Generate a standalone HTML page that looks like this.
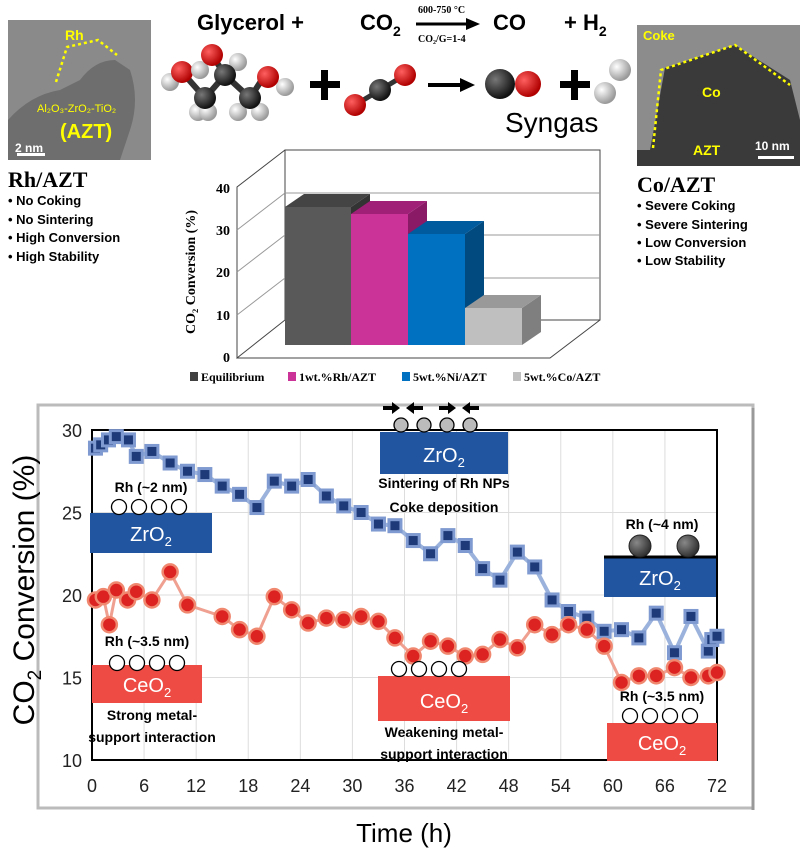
<!DOCTYPE html>
<html><head><meta charset="utf-8"><style>
body{margin:0;background:#fff}
svg{display:block;font-family:"Liberation Sans",sans-serif}
.s{font-family:"Liberation Serif",serif;font-weight:bold}
</style></head><body>
<svg id="g" width="804" height="859" viewBox="0 0 804 859" xmlns="http://www.w3.org/2000/svg">
<defs>
<radialGradient id="rd" cx="35%" cy="35%" r="65%"><stop offset="0" stop-color="#ff6060"/><stop offset="1" stop-color="#b00000"/></radialGradient>
<radialGradient id="bk" cx="35%" cy="35%" r="65%"><stop offset="0" stop-color="#777"/><stop offset="1" stop-color="#111"/></radialGradient>
<radialGradient id="wh" cx="35%" cy="35%" r="65%"><stop offset="0" stop-color="#fff"/><stop offset="1" stop-color="#999"/></radialGradient>
<radialGradient id="gr" cx="35%" cy="35%" r="65%"><stop offset="0" stop-color="#888"/><stop offset="1" stop-color="#333"/></radialGradient>
</defs>
<rect x="8" y="20" width="143" height="140" fill="#8a8a8a"/>
<path d="M8 160 L8 120 Q30 95 60 90 L80 80 Q95 60 115 60 L130 70 Q140 100 130 130 L120 160Z" fill="#6e6e6e"/>
<polyline points="56,82 67,47 98,40 117,55" fill="none" stroke="#ff0" stroke-width="2.5" stroke-dasharray="3,3"/>
<text x="65" y="40" fill="#ff0" font-size="14" font-weight="bold">Rh</text>
<text x="37" y="112" fill="#ff0" font-size="11">Al₂O₃-ZrO₂-TiO₂</text>
<text x="60" y="138" fill="#ff0" font-size="20" font-weight="bold">(AZT)</text>
<text x="15" y="152" fill="#fff" font-size="12" font-weight="bold">2 nm</text>
<rect x="17" y="153" width="28" height="3" fill="#fff"/>
<rect x="637" y="25" width="163" height="141" fill="#3a3a3a"/>
<path d="M637 25 H800 V120 L790 80 L735 45 L665 68 L650 150 H637Z" fill="#8c8c8c"/>
<polyline points="653,148 661,70 735,45 790,85" fill="none" stroke="#ff0" stroke-width="2.5" stroke-dasharray="3,3"/>
<text x="643" y="40" fill="#ff0" font-size="13" font-weight="bold">Coke</text>
<text x="702" y="97" fill="#ff0" font-size="14" font-weight="bold">Co</text>
<text x="693" y="155" fill="#ff0" font-size="14" font-weight="bold">AZT</text>
<text x="755" y="150" fill="#fff" font-size="12" font-weight="bold">10 nm</text>
<rect x="758" y="156" width="36" height="3" fill="#fff"/>
<text x="197" y="30" font-size="22" font-weight="bold">Glycerol  +</text>
<text x="360" y="30" font-size="22" font-weight="bold">CO<tspan font-size="14" dy="6">2</tspan></text>
<line x1="416" y1="24" x2="472" y2="24" stroke="#000" stroke-width="3"/><path d="M466 18 L480 24 L466 30Z"/>
<text x="418" y="13" class="s" font-size="10">600-750 °C</text>
<text x="418" y="42" class="s" font-size="10">CO₂/G=1-4</text>
<text x="493" y="30" font-size="22" font-weight="bold">CO</text>
<text x="564" y="30" font-size="22" font-weight="bold">+ H<tspan font-size="14" dy="6">2</tspan></text>
<g stroke="#333" stroke-width="6"><line x1="182" y1="72" x2="205" y2="98"/><line x1="205" y1="98" x2="225" y2="75"/><line x1="225" y1="75" x2="250" y2="98"/><line x1="250" y1="98" x2="265" y2="75"/><line x1="225" y1="75" x2="212" y2="55"/></g>
<circle cx="170" cy="82" r="9" fill="url(#wh)"/><circle cx="182" cy="72" r="11" fill="url(#rd)"/>
<circle cx="198" cy="112" r="9" fill="url(#wh)"/><circle cx="208" cy="112" r="9" fill="url(#wh)"/><circle cx="205" cy="98" r="11" fill="url(#bk)"/>
<circle cx="200" cy="70" r="9" fill="url(#wh)"/><circle cx="238" cy="62" r="9" fill="url(#wh)"/>
<circle cx="212" cy="55" r="11" fill="url(#rd)"/><circle cx="225" cy="75" r="11" fill="url(#bk)"/>
<circle cx="238" cy="112" r="9" fill="url(#wh)"/><circle cx="260" cy="112" r="9" fill="url(#wh)"/><circle cx="250" cy="98" r="11" fill="url(#bk)"/>
<circle cx="285" cy="87" r="9" fill="url(#wh)"/><circle cx="268" cy="77" r="11" fill="url(#rd)"/>
<rect x="310" y="81" width="30" height="7" fill="#000"/><rect x="321" y="70" width="7" height="30" fill="#000"/>
<g stroke="#333" stroke-width="5"><line x1="355" y1="105" x2="405" y2="75"/></g>
<circle cx="355" cy="105" r="11" fill="url(#rd)"/><circle cx="380" cy="90" r="11" fill="url(#bk)"/><circle cx="405" cy="75" r="11" fill="url(#rd)"/>
<line x1="428" y1="85" x2="465" y2="85" stroke="#000" stroke-width="4"/><path d="M460 78 L475 85 L460 92Z"/>
<circle cx="528" cy="84" r="13" fill="url(#rd)"/><circle cx="500" cy="84" r="15" fill="url(#bk)"/>
<rect x="560" y="81" width="30" height="7" fill="#000"/><rect x="571" y="70" width="7" height="30" fill="#000"/>
<circle cx="620" cy="70" r="11" fill="url(#wh)"/><circle cx="605" cy="93" r="11" fill="url(#wh)"/>
<text x="505" y="132" font-size="28">Syngas</text>
<text x="8" y="187" class="s" font-size="22">Rh/AZT</text>
<g font-size="13" font-weight="bold"><text x="8" y="205">•  No Coking</text><text x="8" y="224">•  No Sintering</text><text x="8" y="242">•  High Conversion</text><text x="8" y="261">•  High Stability</text></g>
<text x="637" y="192" class="s" font-size="22">Co/AZT</text>
<g font-size="13" font-weight="bold"><text x="637" y="210">•  Severe Coking</text><text x="637" y="229">•  Severe Sintering</text><text x="637" y="247">•  Low Conversion</text><text x="637" y="265">•  Low Stability</text></g>
<g stroke="#444" stroke-width="1" fill="none">
<path d="M285 150 H600 V320 H285Z M285 150 L237 187 V358 L285 320 M237 358 H550 L600 320"/>
<path d="M285 193 H600 M285 235 H600 M285 278 H600" stroke="#999"/>
<path d="M237 315 L285 278 M237 272 L285 235 M237 230 L285 193" stroke="#999"/>
</g>
<g class="s" font-size="14" text-anchor="end"><text x="230" y="362">0</text><text x="230" y="320">10</text><text x="230" y="277">20</text><text x="230" y="235">30</text><text x="230" y="193">40</text></g>
<text transform="translate(195,272) rotate(-90)" class="s" font-size="14" text-anchor="middle">CO₂ Conversion (%)</text>
<g>
<path d="M351 207 L370 194 V332 L351 345Z" fill="#333"/><path d="M285 207 L304 194 H370 L351 207Z" fill="#444"/><rect x="285" y="207" width="66" height="138" fill="#595959"/>
<path d="M408 214 L427 201 V332 L408 345Z" fill="#8a1a66"/><path d="M351 214 L370 201 H427 L408 214Z" fill="#a02078"/><rect x="351" y="214" width="57" height="131" fill="#cc3399"/>
<path d="M465 234 L484 221 V332 L465 345Z" fill="#004a80"/><path d="M408 234 L427 221 H484 L465 234Z" fill="#005a9e"/><rect x="408" y="234" width="57" height="111" fill="#0070c0"/>
<path d="M522 308 L541 295 V332 L522 345Z" fill="#7f7f7f"/><path d="M465 308 L484 295 H541 L522 308Z" fill="#999"/><rect x="465" y="308" width="57" height="37" fill="#bfbfbf"/>
</g>
<g class="s" font-size="12"><rect x="190" y="372" width="8" height="9" fill="#404040"/><text x="201" y="381">Equilibrium</text>
<rect x="288" y="372" width="8" height="9" fill="#cc3399"/><text x="299" y="381">1wt.%Rh/AZT</text>
<rect x="402" y="372" width="8" height="9" fill="#0070c0"/><text x="413" y="381">5wt.%Ni/AZT</text>
<rect x="513" y="372" width="8" height="9" fill="#bfbfbf"/><text x="524" y="381">5wt.%Co/AZT</text></g>
<rect x="38" y="405" width="715" height="403" fill="#fff" stroke="#bbb" stroke-width="3"/>
<line x1="753" y1="408" x2="753" y2="810" stroke="#999" stroke-width="3"/>
<g id="grid" stroke="#ddd" stroke-width="1"></g>
<rect x="92" y="430" width="625" height="330" fill="none" stroke="#000" stroke-width="2"/>
<g id="ser"></g>
<g id="ann" font-weight="bold" font-size="14" text-anchor="middle">
<rect x="90" y="513" width="122" height="40" fill="#2255a0"/><text x="151" y="541" fill="#fff" font-size="20" font-weight="normal">ZrO<tspan font-size="13" dy="5">2</tspan></text>
<text x="151" y="492">Rh (~2 nm)</text>
<rect x="380" y="432" width="128" height="42" fill="#2255a0"/><text x="444" y="462" fill="#fff" font-size="20" font-weight="normal">ZrO<tspan font-size="13" dy="5">2</tspan></text>
<text x="444" y="488">Sintering of Rh NPs</text><text x="444" y="512">Coke deposition</text>
<rect x="604" y="557" width="112" height="40" fill="#2255a0"/><text x="660" y="585" fill="#fff" font-size="20" font-weight="normal">ZrO<tspan font-size="13" dy="5">2</tspan></text>
<line x1="604" y1="557" x2="716" y2="557" stroke="#000" stroke-width="3"/>
<circle cx="640" cy="546" r="11" fill="url(#gr)" stroke="#222"/><circle cx="688" cy="546" r="11" fill="url(#gr)" stroke="#222"/>
<text x="662" y="529">Rh (~4 nm)</text>
<rect x="92" y="665" width="110" height="38" fill="#ee4b44"/><text x="147" y="692" fill="#fff" font-size="20" font-weight="normal">CeO<tspan font-size="13" dy="5">2</tspan></text>
<text x="147" y="646">Rh (~3.5 nm)</text><text x="152" y="720">Strong metal-</text><text x="152" y="742">support interaction</text>
<rect x="378" y="676" width="132" height="45" fill="#ee4b44"/><text x="444" y="708" fill="#fff" font-size="20" font-weight="normal">CeO<tspan font-size="13" dy="5">2</tspan></text>
<text x="444" y="737">Weakening metal-</text><text x="444" y="759">support interaction</text>
<rect x="607" y="723" width="110" height="38" fill="#ee4b44"/><text x="662" y="750" fill="#fff" font-size="20" font-weight="normal">CeO<tspan font-size="13" dy="5">2</tspan></text>
<text x="662" y="701">Rh (~3.5 nm)</text>
</g>
<g id="circ" fill="#fff" stroke="#000" stroke-width="1.3"></g>
<g id="ticks" font-size="18" fill="#222" text-anchor="middle"></g>
<text transform="translate(34,590) rotate(-90)" font-size="30" text-anchor="middle">CO<tspan font-size="19" dy="7">2</tspan><tspan dy="-7"> Conversion (%)</tspan></text>
<text x="404" y="842" font-size="26" text-anchor="middle">Time (h)</text>
</svg>
<script>
const NS="http://www.w3.org/2000/svg";
function el(p,t,a){const e=document.createElementNS(NS,t);for(const k in a)e.setAttribute(k,a[k]);document.getElementById(p).appendChild(e);return e;}
const X=h=>92+h*625/72, Y=v=>760-(v-10)*16.5;
for(let h=6;h<72;h+=6)el("grid","line",{x1:X(h),x2:X(h),y1:430,y2:760});
for(let v=15;v<30;v+=5)el("grid","line",{x1:92,x2:717,y1:Y(v),y2:Y(v)});
for(let h=0;h<=72;h+=6){const t=el("ticks","text",{x:X(h),y:792});t.textContent=h;}
for(let v=10;v<=30;v+=5){const t=el("ticks","text",{x:72,y:Y(v)+7});t.textContent=v;}
const B=[[0.4,28.9],[1,29.1],[1.9,29.4],[2.8,29.6],[4.2,29.4],[5.1,28.4],[6.9,28.7],[9,28],[11,27.5],[13,27.3],[15,26.6],[17,26.1],[19,25.3],[21,26.9],[23,26.6],[24.9,27],[27,26],[29,25.4],[31,25],[33,24.3],[34.9,24.2],[37,23.3],[39,22.5],[41,23.6],[43,23],[45,21.6],[47,20.9],[49,22.6],[51,21.7],[53,19.7],[54.9,19],[57,18.6],[59,17.8],[61,17.9],[63,17.4],[65,18.9],[67.1,16.5],[69,18.7],[71,16.6],[71.4,17.3],[72,17.5]];
const R=[[0.4,19.7],[1.3,19.9],[2,18.2],[2.8,20.3],[4.1,19.7],[5.1,20.2],[6.9,19.7],[9,21.4],[11,19.4],[15,18.7],[17,17.9],[19,17.5],[21,19.9],[23,19.1],[24.9,18.3],[27,18.6],[29,18.5],[31,18.7],[33,18.4],[34.9,17.4],[37,16.3],[39,17.2],[41,16.9],[43,16.3],[45,16.4],[47,17.3],[49,16.8],[51,18.2],[53,17.6],[54.9,18.2],[57,17.9],[59,16.9],[61,14.7],[63,15.1],[65,15.1],[67.1,15.6],[69,15],[71,15.1],[72,15.3]];
el("ser","polyline",{points:B.map(p=>X(p[0])+","+Y(p[1])).join(" "),fill:"none",stroke:"#9bb3dc","stroke-width":4});
el("ser","polyline",{points:R.map(p=>X(p[0])+","+Y(p[1])).join(" "),fill:"none",stroke:"#f0a090","stroke-width":3});
B.forEach(p=>{el("ser","rect",{x:X(p[0])-7.5,y:Y(p[1])-7.5,width:15,height:15,fill:"#7f9ad0"});el("ser","rect",{x:X(p[0])-4.5,y:Y(p[1])-4.5,width:9,height:9,fill:"#1e3a78"});});
R.forEach(p=>{el("ser","circle",{cx:X(p[0]),cy:Y(p[1]),r:7.5,fill:"#dd2222",stroke:"#f08870","stroke-width":2.5});});
[[119,507],[139,507],[159,507],[179,507],[117,663],[137,663],[157,663],[177,663],[399,669],[419,669],[439,669],[459,669],[630,716],[650,716],[670,716],[690,716]].forEach(c=>el("circ","circle",{cx:c[0],cy:c[1],r:7.5}));
[[401,425],[424,425],[447,425],[470,425]].forEach(c=>el("circ","circle",{cx:c[0],cy:c[1],r:7,fill:"#bbb"}));
/* arrows: -> <- -> <- */
[[392,1],[414,-1],[448,1],[470,-1]].forEach(a=>{const x=a[0];el("circ","path",{d:a[1]>0?`M${x-9} 406 h9 v-4 l8 6 l-8 6 v-4 h-9z`:`M${x+9} 406 h-9 v-4 l-8 6 l8 6 v-4 h9z`,fill:"#000",stroke:"none"});});
</script>
</body></html>
